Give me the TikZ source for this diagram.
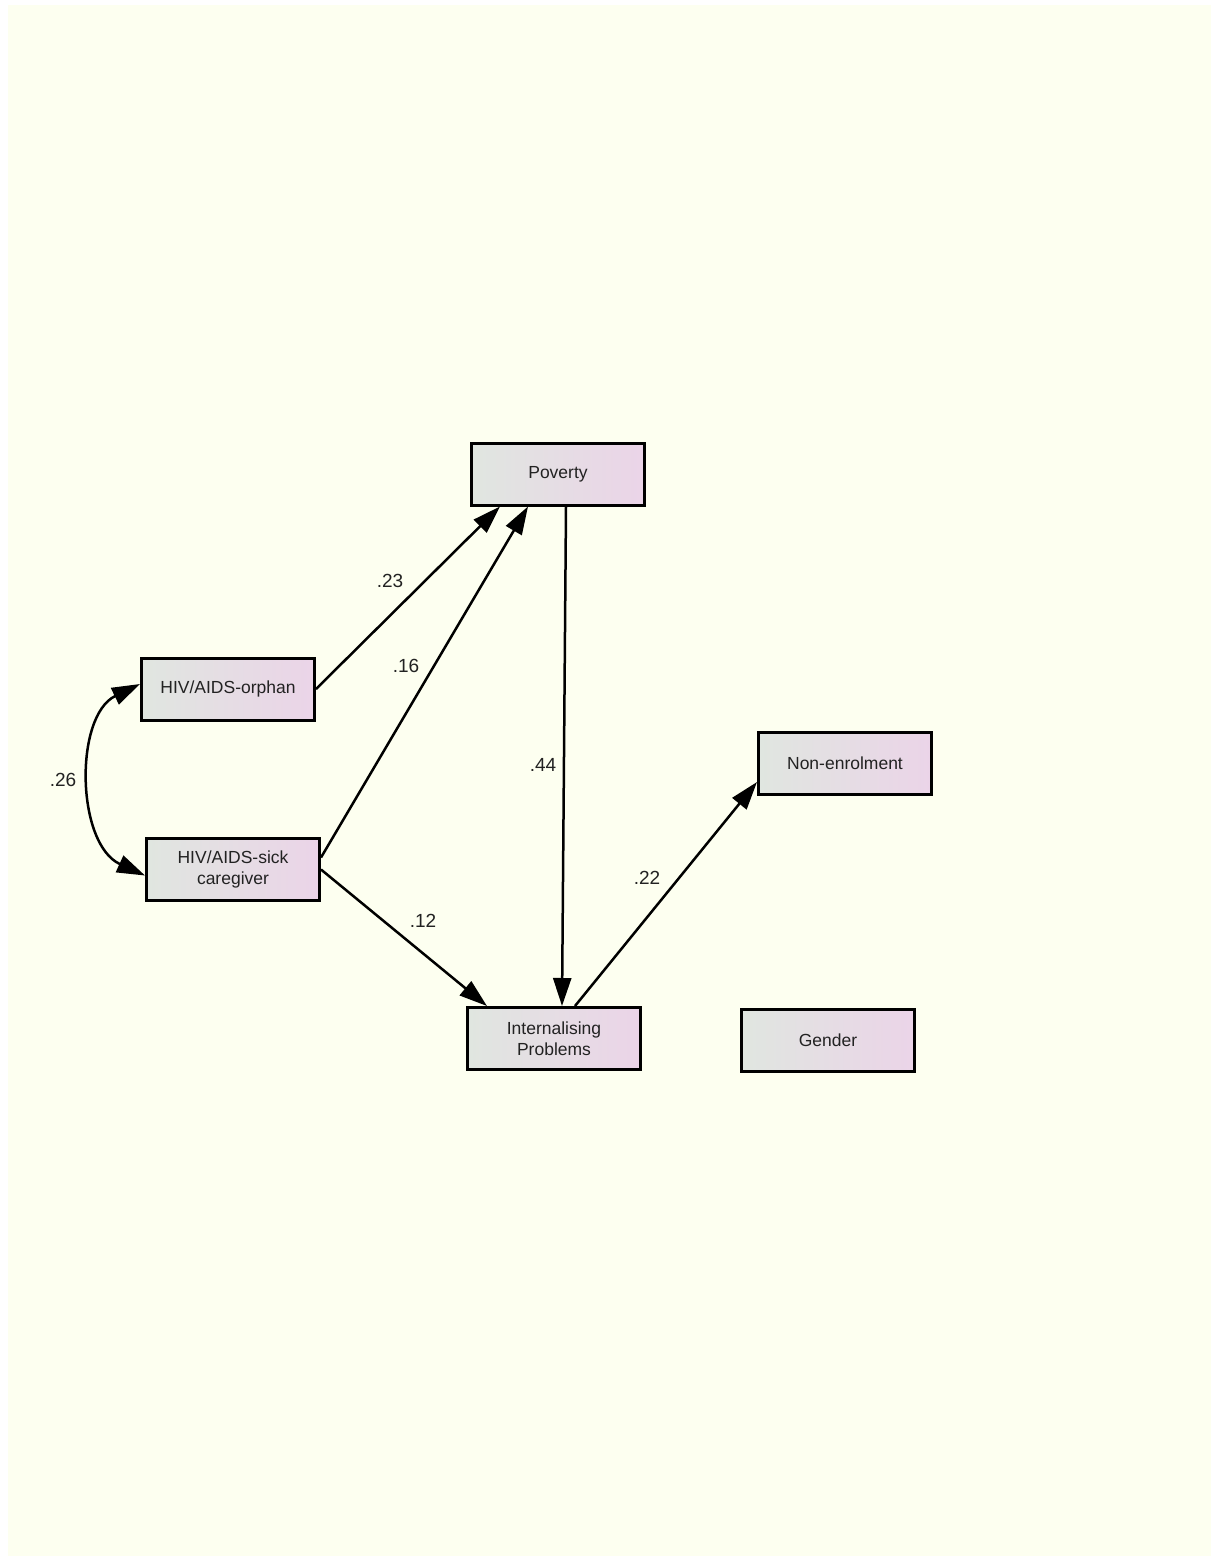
\documentclass[tikz,border=0pt]{standalone}
\usepackage{fontspec}
\setmainfont{Liberation Sans}
\usetikzlibrary{arrows.meta,calc}
\definecolor{bgyellow}{RGB}{253,255,240}
\definecolor{boxleft}{RGB}{224,230,224}
\definecolor{boxright}{RGB}{235,212,232}
\definecolor{txt}{RGB}{34,34,34}
\tikzset{
  var/.style={draw=black, line width=3pt, minimum width=173pt, minimum height=62pt,
    inner sep=0pt, align=center, shading=axis, left color=boxleft, right color=boxright,
    shading angle=90, text=txt, font=\fontsize{17.5}{21}\selectfont},
  path/.style={line width=2.5pt, -{Triangle[length=28pt,width=18pt]}},
  cov/.style={line width=2.5pt, {Triangle[length=28pt,width=18pt]}-{Triangle[length=28pt,width=18pt]}},
  coef/.style={text=txt, font=\fontsize{19}{22}\selectfont, inner sep=0pt}
}
\begin{document}
\begin{tikzpicture}[x=1pt,y=-1pt]
\useasboundingbox (0,0) rectangle (1211,1556);
\fill[white] (0,0) rectangle (1211,1556);
\fill[bgyellow] (8,5) rectangle (1211,1556);

\node[var] (pov) at (558,474) {Poverty};
\node[var] (orph) at (228,689) {HIV/AIDS-orphan};
\node[var] (sick) at (233,869.5) {HIV/AIDS-sick\\caregiver};
\node[var] (non) at (845,763.5) {Non-enrolment};
\node[var] (int) at (554,1038.5) {Internalising\\Problems};
\node[var] (gen) at (828,1040.5) {Gender};

\draw[path] (orph.east) -- ($(pov.south west)+(30,0)$);
\draw[path] ($(sick.east)+(0,-12)$) -- ($(pov.south west)+(58,0)$);
\draw[path] ($(pov.south)+(8,0)$) -- ($(int.north)+(8,0)$);
\draw[path] (sick.east) -- ($(int.north west)+(21,0)$);
\draw[path] ($(int.north)+(21,0)$) -- ($(non.south west)+(0,-14)$);
\draw[cov] ($(orph.west)+(0,-5)$) .. controls (74,716) and (76,844) .. ($(sick.west)+(0,6)$);

\node[coef] (c23) at (390,581) {.23};
\node[coef] (c16) at (406,666) {.16};
\node[coef] (c44) at (543,765) {.44};
\node[coef] (c12) at (423,921) {.12};
\node[coef] (c22) at (647,878) {.22};
\node[coef] (c26) at (63,780) {.26};
\end{tikzpicture}
\end{document}
